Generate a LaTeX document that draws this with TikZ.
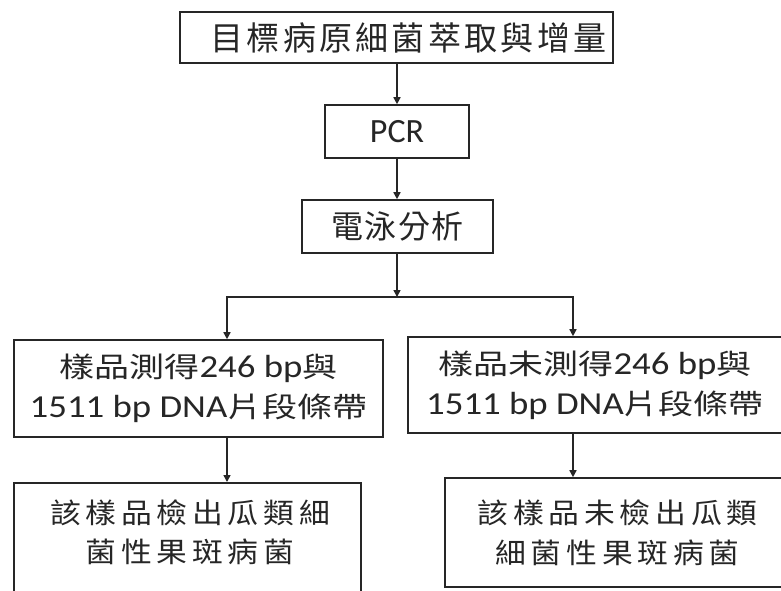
\documentclass[tikz,border=0pt]{standalone}
\usepackage{fontspec}
\setmainfont{Carlito}
\newfontfamily\cjkA[LetterSpace=10]{Noto Sans CJK TC}
\newfontfamily\cjkB[LetterSpace=5]{Noto Sans CJK TC}
\newfontfamily\cjkC[FakeStretch=1.25]{Noto Sans CJK TC}
\newfontfamily\latC[FakeStretch=1.15]{Carlito}
\newfontfamily\cjkD[FakeStretch=1.1,LetterSpace=17]{Noto Sans CJK TC}
\usetikzlibrary{arrows.meta}
\begin{document}
\begin{tikzpicture}[x=1pt,y=-1pt,
  box/.style={draw=black!85,line width=1.6pt,inner sep=0pt,text=black!85},
  txt/.style={inner sep=0pt,text=black!85,align=center},
  arr/.style={line width=1.5pt,draw=black!85,-{Triangle[length=7pt,width=7pt]}},
  ln/.style={line width=1.5pt,draw=black!85,line cap=rect}]
\clip (0,0) rectangle (781,590);
\fill[white] (0,0) rectangle (781,590);

\node[box,minimum width=433pt,minimum height=51pt] (top) at (396.5,37.5) {};
\node[txt,font=\cjkA\fontsize{33}{40}\selectfont] (topt) at (408.5,37.5) {目標病原細菌萃取與增量};
\node[box,minimum width=144pt,minimum height=53pt,font=\fontsize{34}{40}\selectfont] (pcr) at (397,131.5) {PCR};
\node[box,minimum width=191pt,minimum height=53pt,font=\cjkB\fontsize{32}{40}\selectfont] (elec) at (397.5,226.5) {電泳分析};

\node[box,minimum width=369pt,minimum height=97pt,align=center,font=\latC\fontsize{32}{40}\selectfont] (l2) at (198.5,388.5) {{\cjkC\fontsize{28}{40}\selectfont 樣品測得}246 bp{\cjkC\fontsize{28}{40}\selectfont 與}\\1511 bp DNA{\cjkC\fontsize{28}{40}\selectfont 片段條帶}};
\node[box,minimum width=374pt,minimum height=96pt,align=center,font=\latC\fontsize{32}{40}\selectfont] (r2) at (595,385) {{\cjkC\fontsize{28}{40}\selectfont 樣品未測得}246 bp{\cjkC\fontsize{28}{40}\selectfont 與}\\1511 bp DNA{\cjkC\fontsize{28}{40}\selectfont 片段條帶}};

\node[box,minimum width=347pt,minimum height=130pt,anchor=north] (l3) at (187.5,482) {};
\node[txt,font=\cjkD\fontsize{28}{39}\selectfont] (l3t) at (190,532.5) {該樣品檢出瓜類細\\菌性果斑病菌};
\node[box,minimum width=345pt,minimum height=109pt,align=center,font=\cjkD\fontsize{28}{40}\selectfont] (r3) at (617.5,532.5) {該樣品未檢出瓜類\\細菌性果斑病菌};

\coordinate (split) at (397,297);
\coordinate (sl) at (227,297);
\coordinate (sr) at (573,297);
\draw[arr] (top.south -| pcr) -- (pcr.north);
\draw[arr] (pcr.south) -- (elec.north -| pcr);
\draw[arr] (elec.south -| pcr) -- (split);
\draw[ln] (sl) -- (sr);
\draw[arr] (sl) -- (sl |- l2.north);
\draw[arr] (sr) -- (sr |- r2.north);
\draw[arr] (sl |- l2.south) -- (sl |- l3.north);
\draw[arr] (sr |- r2.south) -- (sr |- r3.north);
\end{tikzpicture}
\end{document}
